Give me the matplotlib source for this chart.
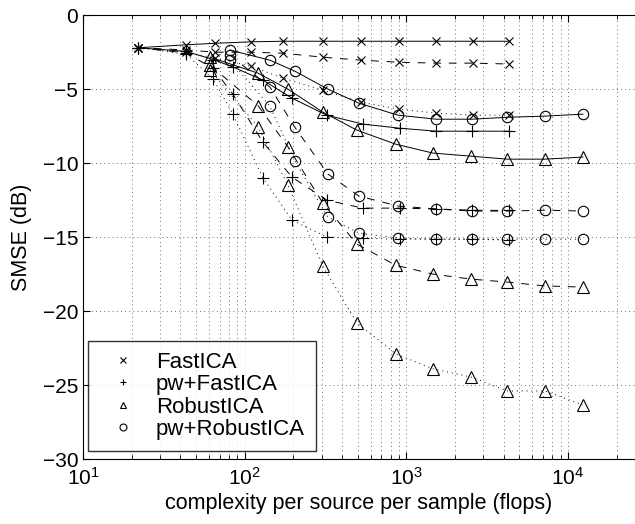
import matplotlib
matplotlib.use("Agg")
import matplotlib.pyplot as plt
from matplotlib.ticker import LogLocator, NullFormatter

plt.rcParams["font.family"] = ["Liberation Sans", "DejaVu Sans"]
plt.rcParams["mathtext.fontset"] = "custom"
plt.rcParams["mathtext.rm"] = "Liberation Sans"

# FastICA (x)
fast_x = [21.9, 43.4, 65.6, 109, 173, 305, 524, 899, 1523, 2580, 4311]
fast_solid = [-2.2, -2.0, -1.9, -1.8, -1.76, -1.76, -1.76, -1.76, -1.76, -1.76, -1.76]
fast_dashed = [-2.2, -2.35, -2.5, -2.5, -2.57, -2.84, -3.04, -3.18, -3.24, -3.24, -3.3]
fast_dotted = [-2.2, -2.5, -2.9, -3.45, -4.26, -5.07, -5.88, -6.35, -6.62, -6.76, -6.76]

# pw+FastICA (+)
pwfast_x = [21.9, 43.4, 63.8, 84.5, 129.5, 196, 322, 537, 913, 1530, 2550, 4330]
pwfast_solid = [-2.2, -2.45, -3.0, -3.5, -4.39, -5.61, -6.76, -7.36, -7.64, -7.84, -7.84, -7.84]
pwfast_dashed = [-2.2, -2.55, -3.6, -5.34, -8.58, -10.95, -12.5, -13.04, -13.04, -13.1, -13.18, -13.2]
pwfast_dotted = [-2.2, -2.64, -4.32, -6.69, -11.0, -13.85, -15.0, -15.07, -15.14, -15.14, -15.14, -15.2]

# RobustICA (triangles)
rob_x = [61, 121, 185, 304, 494, 860, 1460, 2520, 4210, 7220, 12380]
rob_solid = [-2.84, -3.92, -5.0, -6.55, -7.77, -8.72, -9.32, -9.53, -9.73, -9.73, -9.59]
rob_dashed = [-3.38, -6.12, -8.9, -12.7, -15.47, -16.9, -17.5, -17.84, -18.04, -18.3, -18.38]
rob_dotted = [-3.7, -7.55, -11.49, -16.96, -20.8, -22.9, -23.9, -24.46, -25.4, -25.4, -26.35]

# pw+RobustICA (circles)
pwrob_x = [81, 143, 204, 327, 509, 889, 1530, 2550, 4210, 7260, 12380]
pwrob_solid = [-2.36, -3.04, -3.78, -5.0, -5.95, -6.76, -7.03, -7.03, -6.9, -6.82, -6.69]
pwrob_dashed = [-2.7, -4.86, -7.57, -10.74, -12.23, -12.9, -13.1, -13.24, -13.24, -13.18, -13.24]
pwrob_dotted = [-3.04, -6.15, -9.86, -13.65, -14.73, -15.07, -15.14, -15.14, -15.14, -15.14, -15.14]

methods = [
    ("FastICA", "x", 6, fast_x, [fast_solid, fast_dashed, fast_dotted]),
    ("pw+FastICA", "+", 9, pwfast_x, [pwfast_solid, pwfast_dashed, pwfast_dotted]),
    ("RobustICA", "^", 8, rob_x, [rob_solid, rob_dashed, rob_dotted]),
    ("pw+RobustICA", "o", 7.5, pwrob_x, [pwrob_solid, pwrob_dashed, pwrob_dotted]),
]
styles = ["-", (0, (8, 8)), (0, (1, 4))]

fig = plt.figure(figsize=(6.35, 5.24), dpi=100)
ax = fig.add_axes([0.131, 0.124, 0.869, 0.847])

for name, marker, msize, xs, curves in methods:
    for ys, ls in zip(curves, styles):
        ax.plot(xs, ys, color="black", linestyle=ls, linewidth=0.7)
        ax.plot(xs, ys, linestyle="none", marker=marker, markersize=msize,
                markerfacecolor="none", markeredgecolor="black", markeredgewidth=0.8)
    ax.plot([], [], linestyle="none", marker=marker, markersize=5,
            markerfacecolor="none", markeredgecolor="black", markeredgewidth=0.8, label=name)

ax.set_xscale("log")
ax.set_xlim(10, 2.6e4)
ax.set_ylim(-30, 0)
ax.set_yticks([-30, -25, -20, -15, -10, -5, 0])
ax.xaxis.set_minor_locator(LogLocator(base=10, subs=range(2, 10)))
ax.xaxis.set_minor_formatter(NullFormatter())
grid_style = dict(linestyle=(0, (1, 4)), color="0.25", linewidth=0.6)
ax.grid(True, which="major", **grid_style)
ax.grid(True, which="minor", axis="x", **grid_style)
ax.tick_params(which="both", direction="in", top=True, right=False, labelsize=15)
ax.tick_params(which="major", length=5)
ax.tick_params(which="minor", length=3)
ax.tick_params(axis="x", which="major", pad=6)
ax.spines["right"].set_visible(False)

ax.set_xlabel("complexity per source per sample (flops)", fontsize=15.5, labelpad=3)
ax.set_ylabel("SMSE (dB)", fontsize=15.5, labelpad=8)

leg = ax.legend(loc="lower left", bbox_to_anchor=(0.009, 0.018), borderaxespad=0,
                fontsize=16, frameon=True, fancybox=False, edgecolor="black",
                handletextpad=0.45, labelspacing=0.06, handlelength=2.1,
                borderpad=0.5)
leg.get_frame().set_linewidth(1.0)

fig.savefig("out.png", dpi=100)
